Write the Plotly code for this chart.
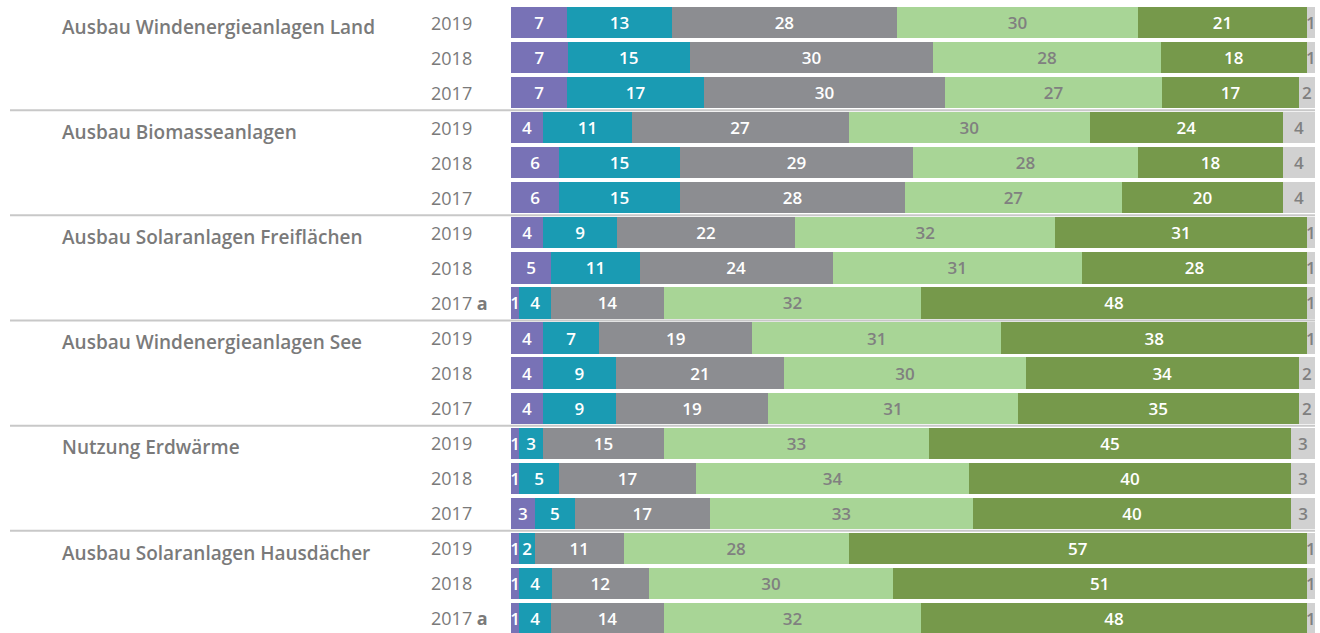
import plotly.graph_objects as go

groups = ["Ausbau Windenergieanlagen Land", "Ausbau Biomasseanlagen",
          "Ausbau Solaranlagen Freiflächen", "Ausbau Windenergieanlagen See",
          "Nutzung Erdwärme", "Ausbau Solaranlagen Hausdächer"]
years = ["2019", "2018", "2017",
         "2019", "2018", "2017",
         "2019", "2018", "2017 <b>a</b>",
         "2019", "2018", "2017",
         "2019", "2018", "2017",
         "2019", "2018", "2017 <b>a</b>"]

s1 = [7, 7, 7, 4, 6, 6, 4, 5, 1, 4, 4, 4, 1, 1, 3, 1, 1, 1]
s2 = [13, 15, 17, 11, 15, 15, 9, 11, 4, 7, 9, 9, 3, 5, 5, 2, 4, 4]
s3 = [28, 30, 30, 27, 29, 28, 22, 24, 14, 19, 21, 19, 15, 17, 17, 11, 12, 14]
s4 = [30, 28, 27, 30, 28, 27, 32, 31, 32, 31, 30, 31, 33, 34, 33, 28, 30, 32]
s5 = [21, 18, 17, 24, 18, 20, 31, 28, 48, 38, 34, 35, 45, 40, 40, 57, 51, 48]
s6 = [1, 1, 2, 4, 4, 4, 1, 1, 1, 1, 2, 2, 3, 3, 3, 1, 1, 1]

series = [s1, s2, s3, s4, s5, s6]
colors = ["#7872b6", "#1a9bb3", "#8c8d91", "#a8d596", "#76994b", "#d1d1d1"]
text_colors = ["white", "white", "white", "#808080", "white", "#808080"]

rows = list(range(len(years)))
font_family = "Open Sans"

fig = go.Figure()
for i, (vals, col, tcol) in enumerate(zip(series, colors, text_colors)):
    fig.add_trace(go.Bar(
        y=rows, x=vals, orientation="h",
        marker=dict(color=col, line=dict(width=0)),
        text=[str(v) for v in vals], texttemplate="%{text}",
        textposition="inside", insidetextanchor="middle",
        textangle=0, constraintext="none",
        textfont=dict(color=tcol, size=17, family=font_family, weight=600),
        name=f"Kategorie {i+1}", showlegend=False,
        hovertemplate="%{text}<extra></extra>",
    ))

L, R, T, B = 511, 5, 5, 0
W = 1320 - L - R

def px_to_paper(px):
    return (px - L) / W

annotations = []
for r, yl in zip(rows, years):
    annotations.append(dict(
        x=px_to_paper(429), xref="paper", y=r, yref="y",
        text=yl, showarrow=False, xanchor="left", yanchor="middle",
        font=dict(size=18, color="#7a7a7a", family=font_family)))
for g, name in enumerate(groups):
    annotations.append(dict(
        x=px_to_paper(60), xref="paper", y=g * 3 + 0.12, yref="y",
        text=name, showarrow=False, xanchor="left", yanchor="middle",
        font=dict(size=19, color="#7a7a7a", family=font_family, weight=600)))

shapes = []
for g in range(1, len(groups)):
    yb = g * 3 - 0.5
    shapes.append(dict(type="line", xref="paper", yref="y",
                       x0=px_to_paper(10), x1=1, y0=yb, y1=yb,
                       line=dict(color="#c8c8c8", width=2), layer="below"))

fig.update_layout(
    width=1320, height=636,
    margin=dict(l=L, r=R, t=T, b=B),
    barmode="stack", barnorm="percent", bargap=0.11,
    plot_bgcolor="white", paper_bgcolor="white",
    xaxis=dict(visible=False, range=[0, 100], fixedrange=True),
    yaxis=dict(visible=False, range=[len(rows) - 0.5, -0.5], fixedrange=True),
    annotations=annotations, shapes=shapes,
    font=dict(family=font_family),
)

fig.write_html("out.html", config={"displayModeBar": False},
               post_script="document.body.style.margin='0';document.body.style.padding='0';document.body.style.overflow='hidden';")
